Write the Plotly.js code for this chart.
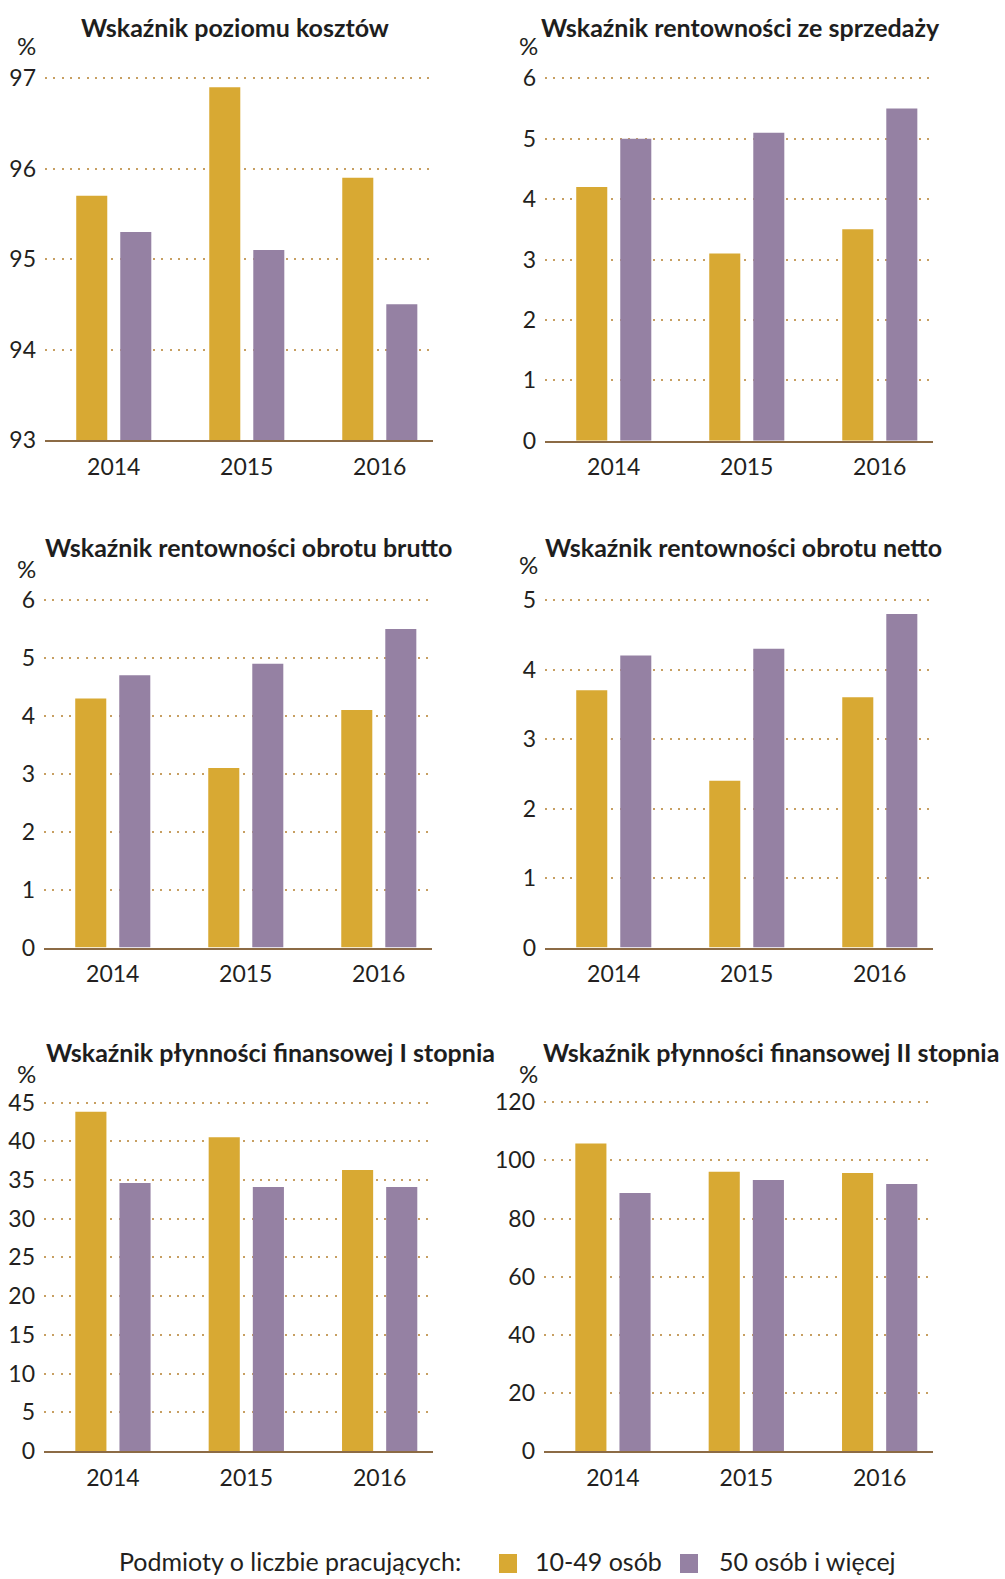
<!DOCTYPE html>
<html>
<head>
<meta charset="utf-8">
<script src="https://cdn.plot.ly/plotly-3.0.1.min.js"></script>
<style>
html,body{margin:0;padding:0;background:#ffffff;}
#chart{width:1005px;height:1579px;}
</style>
</head>
<body>
<div id="chart"></div>
<script>
// ---- data ----
const years = ['2014', '2015', '2016'];
const seriesNames = ['10-49 osób', '50 osób i więcej'];
const legendTitle = 'Podmioty o liczbie pracujących:';
const unitLabel = '%';
const panelTitles = [
  'Wskaźnik poziomu kosztów',
  'Wskaźnik rentowności ze sprzedaży',
  'Wskaźnik rentowności obrotu brutto',
  'Wskaźnik rentowności obrotu netto',
  'Wskaźnik płynności finansowej I stopnia',
  'Wskaźnik płynności finansowej II stopnia'
];
const kosztySmall = [95.7, 96.9, 95.9];
const kosztyLarge = [95.3, 95.1, 94.5];
const sprzedazSmall = [4.2, 3.1, 3.5];
const sprzedazLarge = [5.0, 5.1, 5.5];
const bruttoSmall = [4.3, 3.1, 4.1];
const bruttoLarge = [4.7, 4.9, 5.5];
const nettoSmall = [3.7, 2.4, 3.6];
const nettoLarge = [4.2, 4.3, 4.8];
const plynnosc1Small = [43.8, 40.5, 36.3];
const plynnosc1Large = [34.6, 34.1, 34.1];
const plynnosc2Small = [105.8, 96.1, 95.7];
const plynnosc2Large = [88.8, 93.3, 91.9];
const yMin = [93, 0, 0, 0, 0, 0];
const yMax = [97, 6, 6, 5, 45, 120];
const yDticks = [1, 1, 1, 1, 5, 20];

// ---- styling / positions ----
const W = 1005, H = 1579;
const colors = ['#D8A933', '#9581A3'];
const panelData = [
  [kosztySmall, kosztyLarge],
  [sprzedazSmall, sprzedazLarge],
  [bruttoSmall, bruttoLarge],
  [nettoSmall, nettoLarge],
  [plynnosc1Small, plynnosc1Large],
  [plynnosc2Small, plynnosc2Large]
];
// pixel boxes: [left, right, top(at max value), bottom]
const boxes = [
  [45, 433, 78.3, 440],
  [545, 933, 78.3, 440.7],
  [44, 432, 600, 947.5],
  [545, 933, 600, 947.5],
  [44, 433, 1102.5, 1451],
  [544, 933, 1102.3, 1451]
];
const titlePos = [[235, 27], [740, 27], [248, 547], [743, 547], [270, 1052], [771, 1052]];
const pctPos = [[26, 45], [528, 45], [26, 568], [528, 565], [26, 1073], [528, 1073]];
const PAD = 3; // px of headroom so the top gridline is drawn

const traces = [];
const layout = {
  width: W, height: H,
  margin: {l: 0, r: 0, t: 0, b: 0},
  paper_bgcolor: '#ffffff',
  plot_bgcolor: 'rgba(0,0,0,0)',
  font: {family: 'Lato, "Open Sans", sans-serif', size: 23, color: '#231F20'},
  barmode: 'group',
  bargap: 0.338,
  bargroupgap: 0.295,
  showlegend: false,
  annotations: [],
  shapes: [],
  hovermode: false
};

panelData.forEach((pair, i) => {
  const n = i === 0 ? '' : String(i + 1);
  pair.forEach((vals, s) => {
    traces.push({
      type: 'bar',
      x: years,
      y: vals,
      name: seriesNames[s],
      marker: {color: colors[s], line: {width: 0}},
      xaxis: 'x' + n,
      yaxis: 'y' + n,
      hoverinfo: 'skip'
    });
  });
  const b = boxes[i];
  const top = b[2] - PAD;
  const span = yMax[i] - yMin[i];
  const extra = span * PAD / (b[3] - b[2]);
  layout['xaxis' + n] = {
    domain: [b[0] / W, b[1] / W],
    anchor: 'y' + n,
    type: 'category',
    range: [-0.517, 2.4],
    showgrid: false,
    zeroline: false,
    showline: true,
    linecolor: '#8C6B45',
    linewidth: 2,
    ticks: '',
    ticklabelstandoff: 5,
    tickfont: {size: 23, color: '#231F20'},
    fixedrange: true
  };
  layout['yaxis' + n] = {
    domain: [1 - b[3] / H, 1 - top / H],
    anchor: 'x' + n,
    range: [yMin[i], yMax[i] + extra],
    dtick: yDticks[i],
    tick0: yMin[i],
    showgrid: true,
    gridcolor: '#C79F62',
    gridwidth: 2,
    griddash: '2px,6.3px',
    zeroline: false,
    showline: false,
    ticks: '',
    ticklabelstandoff: 8,
    tickfont: {size: 23, color: '#231F20'},
    fixedrange: true
  };
  layout.annotations.push({
    text: '<b>' + panelTitles[i] + '</b>',
    xref: 'paper', yref: 'paper',
    x: titlePos[i][0] / W, y: 1 - titlePos[i][1] / H,
    xanchor: 'center', yanchor: 'middle',
    showarrow: false,
    font: {size: 25, color: '#1E1E1E'}
  });
  layout.annotations.push({
    text: unitLabel,
    xref: 'paper', yref: 'paper',
    x: pctPos[i][0] / W, y: 1 - pctPos[i][1] / H,
    xanchor: 'center', yanchor: 'middle',
    showarrow: false,
    font: {size: 24, color: '#231F20'}
  });
});

// ---- legend (drawn manually) ----
const legendY = 1561;
const legendTextX = [117, 533, 717];
const legendSquareX = [499, 680];
layout.annotations.push({
  text: legendTitle, xref: 'paper', yref: 'paper',
  x: legendTextX[0] / W, y: 1 - legendY / H,
  xanchor: 'left', yanchor: 'middle', showarrow: false,
  font: {size: 25, color: '#231F20'}
});
seriesNames.forEach((nm, s) => {
  layout.shapes.push({
    type: 'rect', xref: 'paper', yref: 'paper',
    x0: legendSquareX[s] / W, x1: (legendSquareX[s] + 18) / W,
    y0: 1 - (legendY + 12) / H, y1: 1 - (legendY - 7) / H,
    fillcolor: colors[s], line: {width: 0}
  });
  layout.annotations.push({
    text: nm, xref: 'paper', yref: 'paper',
    x: legendTextX[s + 1] / W, y: 1 - legendY / H,
    xanchor: 'left', yanchor: 'middle', showarrow: false,
    font: {size: 25, color: '#231F20'}
  });
});

Plotly.newPlot('chart', traces, layout, {displayModeBar: false, staticPlot: true});
</script>
</body>
</html>
